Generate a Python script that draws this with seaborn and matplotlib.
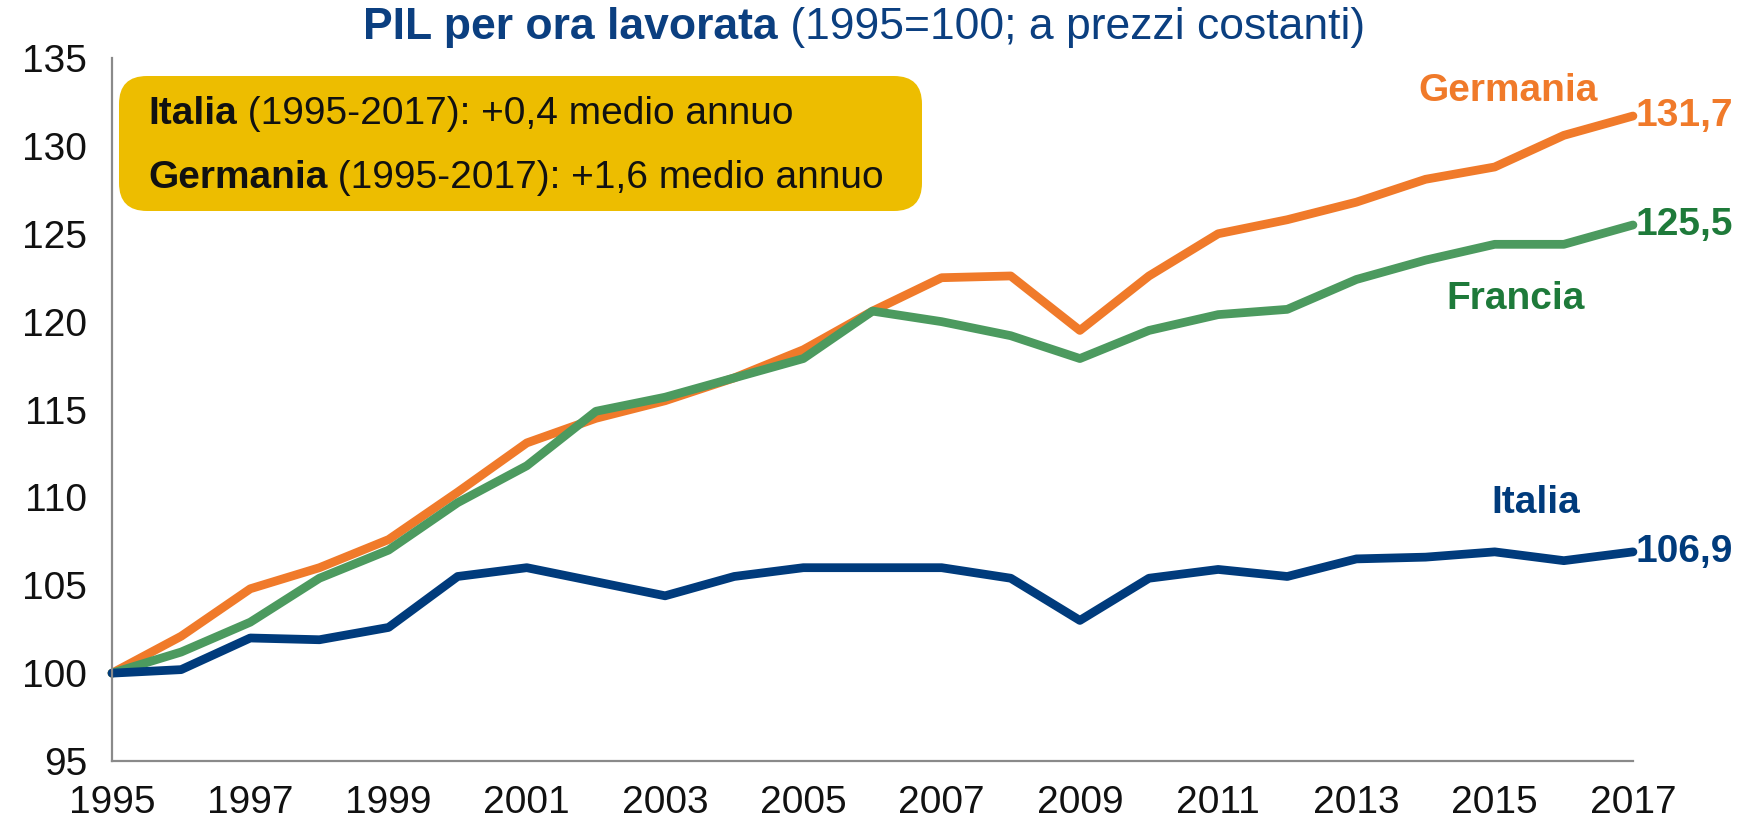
import numpy as np
import pandas as pd
import matplotlib
matplotlib.use("Agg")
import matplotlib.pyplot as plt
from matplotlib.patches import FancyBboxPatch
import seaborn as sns

# ─────────────────────────────────────────
# Data (1995=100)
# ─────────────────────────────────────────
YEARS = list(range(1995, 2018))

ITALIA = [100.0, 100.2, 102.0, 101.9, 102.6, 105.5, 106.0, 105.2, 104.4, 105.5,
          106.0, 106.0, 106.0, 105.4, 103.0, 105.4, 105.9, 105.5, 106.5, 106.6,
          106.9, 106.4, 106.9]
GERMANIA = [100.0, 102.1, 104.8, 106.0, 107.6, 110.3, 113.1, 114.5, 115.5, 116.8,
            118.4, 120.6, 122.5, 122.6, 119.5, 122.6, 125.0, 125.8, 126.8, 128.1,
            128.8, 130.6, 131.7]
FRANCIA = [100.0, 101.2, 102.9, 105.4, 107.0, 109.7, 111.8, 114.9, 115.7, 116.8,
           117.9, 120.6, 120.0, 119.2, 117.9, 119.5, 120.4, 120.7, 122.4, 123.5,
           124.4, 124.4, 125.5]

SERIES = ["Germania", "Francia", "Italia"]
END_LABELS = ["131,7", "125,5", "106,9"]

LINE_COLORS = {"Germania": "#F07A2A", "Francia": "#4C9A5F", "Italia": "#003B7C"}
TEXT_COLORS = {"Germania": "#F07A2A", "Francia": "#1E7A3A", "Italia": "#003B7C"}
BLUE_TITLE = "#0B3F80"
BOX_COLOR = "#EDBD00"

df = pd.DataFrame({
    "anno": YEARS * 3,
    "valore": GERMANIA + FRANCIA + ITALIA,
    "paese": ["Germania"] * len(YEARS) + ["Francia"] * len(YEARS) + ["Italia"] * len(YEARS),
})

# ─────────────────────────────────────────
# Style
# ─────────────────────────────────────────
sns.set_style("white")
plt.rcParams["font.family"] = ["Liberation Sans", "DejaVu Sans"]

fig = plt.figure(figsize=(17.42, 8.22), dpi=100)
ax = fig.add_axes([0.0643, 0.0742, 0.8731, 0.8552])

sns.lineplot(data=df, x="anno", y="valore", hue="paese", hue_order=SERIES,
             palette=LINE_COLORS, linewidth=6.3, legend=False, ax=ax,
             clip_on=False, zorder=2)

ax.set_xlim(1995, 2017)
ax.set_ylim(95, 135)
ax.set_xticks(YEARS)
ax.set_xticklabels([str(y) if (y - 1995) % 2 == 0 else "" for y in YEARS])
ax.set_yticks(range(95, 136, 5))
ax.set_xlabel("")
ax.set_ylabel("")

for side in ["top", "right"]:
    ax.spines[side].set_visible(False)
for side in ["left", "bottom"]:
    ax.spines[side].set_color("#8a8a8a")
    ax.spines[side].set_linewidth(1.6)

ax.tick_params(axis="x", direction="out", length=10, width=1.4, color="#8a8a8a",
               labelsize=28, pad=7, labelcolor="#111111")
ax.tick_params(axis="y", length=0, labelsize=28, pad=18, labelcolor="#111111")

# ── Title ───────────────────────────────
t1 = ax.annotate("PIL per ora lavorata", xy=(0.2085, 0.966), xycoords="figure fraction",
                 fontsize=32, fontweight="bold", color=BLUE_TITLE,
                 ha="left", va="center", annotation_clip=False)
ax.annotate(" (1995=100; a prezzi costanti)", xy=(1, 0.5), xycoords=t1,
            fontsize=32, color=BLUE_TITLE, ha="left", va="center", annotation_clip=False)

# ── Yellow box (inches from bottom-left) ─
box = FancyBboxPatch((1.19, 6.11), 8.03, 1.35,
                     boxstyle="round,pad=0,rounding_size=0.28",
                     transform=fig.dpi_scale_trans, facecolor=BOX_COLOR,
                     edgecolor="none", zorder=1, clip_on=False)
ax.add_patch(box)

for ypos, name, txt in [(0.861, "Italia", " (1995-2017): +0,4 medio annuo"),
                        (0.783, "Germania", " (1995-2017): +1,6 medio annuo")]:
    tb = ax.annotate(name, xy=(0.085, ypos), xycoords="figure fraction", fontsize=28,
                     fontweight="bold", color="#111111", ha="left", va="center",
                     zorder=3, annotation_clip=False)
    ax.annotate(txt, xy=(1, 0.5), xycoords=tb, fontsize=28, color="#111111",
                ha="left", va="center", zorder=3, annotation_clip=False)

# ── Series names and end values ────────
name_pos = {"Germania": (2015.2, 133.1), "Francia": (2015.3, 121.3), "Italia": (2015.6, 109.7)}
end_vals = {"Germania": GERMANIA[-1], "Francia": FRANCIA[-1], "Italia": ITALIA[-1]}

for name, lab in zip(SERIES, END_LABELS):
    x, y = name_pos[name]
    ax.text(x, y, name, fontsize=28, fontweight="bold", color=TEXT_COLORS[name],
            ha="center", va="center")
    ax.annotate(lab, xy=(2017, end_vals[name]), xytext=(2, 0), textcoords="offset points",
                fontsize=28, fontweight="bold", color=TEXT_COLORS[name],
                ha="left", va="center", annotation_clip=False)

fig.savefig("out.png", dpi=100)
